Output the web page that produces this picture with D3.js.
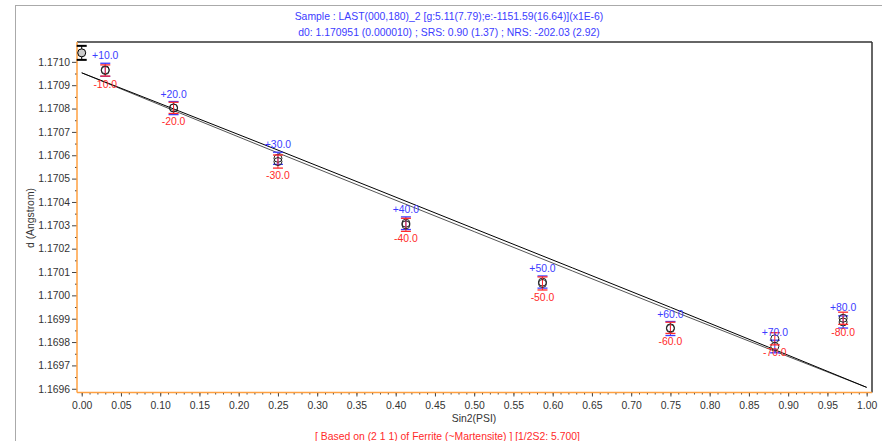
<!DOCTYPE html>
<html>
<head>
<meta charset="utf-8">
<script src="https://cdn.jsdelivr.net/npm/d3@7"></script>
<style>
  body { margin: 0; background: #fff; }
  text { font-family: "Liberation Sans", Arial, sans-serif; }
</style>
</head>
<body>
<div id="grafico"></div>
<script>
// datos
var psi = [10, 20, 30, 40, 50, 60, 70, 80];
var sin2psi = [0.030, 0.117, 0.250, 0.413, 0.587, 0.750, 0.883, 0.970];
var dMas = [1.170966, 1.170802, 1.170587, 1.170309, 1.170057, 1.169858, 1.169781, 1.169886];
var dMenos = [1.170963, 1.170803, 1.170573, 1.170302, 1.170051, 1.169861, 1.169814, 1.169902];
var errMas = [0.000028, 0.000028, 0.000026, 0.000027, 0.000026, 0.000030, 0.000027, 0.000026];
var errMenos = [0.000024, 0.000024, 0.000028, 0.000028, 0.000028, 0.000024, 0.000026, 0.000026];

// d0 marcado en sin2psi = 0
var d0Punto = [{s: 0.0, d: 1.1710385, e: 0.00003}];

// rectas de ajuste (+psi y -psi)
var ajusteS = [0, 0.25, 0.5, 0.75, 1];
var ajusteMas = [1.170953, 1.170622, 1.170286, 1.169949, 1.169606];
var ajusteMenos = [1.170953, 1.170610, 1.170273, 1.169937, 1.169606];

var ticksX = d3.range(0, 1.0001, 0.05);
var ticksY = d3.range(1.1696, 1.17101, 0.0001);

var titulo1 = "Sample : LAST(000,180)_2 [g:5.11(7.79);e:-1151.59(16.64)](x1E-6)";
var titulo2 = "d0: 1.170951 (0.000010) ; SRS: 0.90 (1.37) ; NRS: -202.03 (2.92)";
var pie = "[ Based on (2 1 1) of Ferrite (~Martensite) ] [1/2S2: 5.700]";

ancho = 882;
alto = 441;
izq = 77; der = 872; arriba = 42; abajo = 392.5;
azul = "#3c3cff";
rojo = "#ff2a2a";
naranja = "#ffa040";
fuente = "10.4px";

var svg = d3.select("#grafico")
    .append("svg")
    .attr("width", ancho)
    .attr("height", alto);

// marco gris exterior
svg.append("line").attr("x1", 16).attr("x2", 882).attr("y1", 5.5).attr("y2", 5.5)
    .attr("stroke", "#aaa").attr("stroke-width", 1);
svg.append("line").attr("x1", 15.5).attr("x2", 15.5).attr("y1", 5).attr("y2", 441)
    .attr("stroke", "#aaa").attr("stroke-width", 1);

var escalaX = d3.scaleLinear().domain([-0.006, 1.0068]).range([izq, der]);
var escalaY = d3.scaleLinear().domain([1.169584, 1.171085]).range([abajo, arriba]);

// ejes
var ejeX = svg.append("g")
    .attr("transform", "translate(0," + abajo + ")")
    .call(d3.axisBottom(escalaX).tickValues(ticksX).tickSize(4).tickSizeOuter(0)
        .tickFormat(d3.format(".2f")));
var ejeXmenor = svg.append("g")
    .attr("transform", "translate(0," + abajo + ")")
    .call(d3.axisBottom(escalaX).tickValues(d3.range(0, 1.0001, 0.01)).tickSize(2)
        .tickSizeOuter(0).tickFormat(""));

var ejeY = svg.append("g")
    .attr("transform", "translate(" + izq + ",0)")
    .call(d3.axisLeft(escalaY).tickValues(ticksY).tickSize(5).tickSizeOuter(0)
        .tickFormat(d3.format(".4f")));
var ejeYmenor = svg.append("g")
    .attr("transform", "translate(" + izq + ",0)")
    .call(d3.axisLeft(escalaY).tickValues(d3.range(1.16965, 1.17101, 0.0001)).tickSize(2)
        .tickSizeOuter(0).tickFormat(""));

[ejeX, ejeXmenor, ejeY, ejeYmenor].forEach(function (g) {
    g.select(".domain").remove();
    g.selectAll("line").attr("stroke", "#444");
    g.selectAll("text").attr("fill", "#333").attr("font-size", fuente)
        .attr("font-family", "Liberation Sans, Arial, sans-serif");
});
ejeX.selectAll("text").attr("dy", "0.95em");
ejeY.selectAll("text").attr("dx", "1px");

// bordes
svg.append("line").attr("x1", izq).attr("x2", der).attr("y1", arriba).attr("y2", arriba)
    .attr("stroke", "#333").attr("stroke-width", 1.5);
svg.append("line").attr("x1", der).attr("x2", der).attr("y1", arriba).attr("y2", abajo)
    .attr("stroke", "#333").attr("stroke-width", 1.5);
svg.append("line").attr("x1", izq).attr("x2", der).attr("y1", abajo).attr("y2", abajo)
    .attr("stroke", naranja).attr("stroke-width", 1.5);
svg.append("line").attr("x1", izq).attr("x2", izq).attr("y1", arriba).attr("y2", abajo)
    .attr("stroke", naranja).attr("stroke-width", 1.5);

// rectas de ajuste
var linea = d3.line()
    .x(function (d) { return escalaX(d[0]); })
    .y(function (d) { return escalaY(d[1]); })
    .curve(d3.curveMonotoneX);

svg.append("path")
    .attr("d", linea(ajusteS.map(function (s, i) { return [s, ajusteMenos[i]]; })))
    .attr("fill", "none").attr("stroke", "#555").attr("stroke-width", 1);
svg.append("path")
    .attr("d", linea(ajusteS.map(function (s, i) { return [s, ajusteMas[i]]; })))
    .attr("fill", "none").attr("stroke", "#000").attr("stroke-width", 1);

// puntos con barras de error
function barras(valores, errores, color) {
    var g = svg.append("g");
    var datos = sin2psi.map(function (s, i) { return {s: s, d: valores[i], e: errores[i]}; });
    g.selectAll(".vert").data(datos).enter().append("line")
        .attr("x1", function (d) { return escalaX(d.s); })
        .attr("x2", function (d) { return escalaX(d.s); })
        .attr("y1", function (d) { return escalaY(d.d + d.e); })
        .attr("y2", function (d) { return escalaY(d.d - d.e); })
        .attr("stroke", color).attr("stroke-width", 1);
    [1, -1].forEach(function (signo) {
        g.selectAll(".cap" + signo).data(datos).enter().append("line")
            .attr("x1", function (d) { return escalaX(d.s) - 5; })
            .attr("x2", function (d) { return escalaX(d.s) + 5; })
            .attr("y1", function (d) { return escalaY(d.d + signo * d.e); })
            .attr("y2", function (d) { return escalaY(d.d + signo * d.e); })
            .attr("stroke", color).attr("stroke-width", 1.3);
    });
    g.selectAll("circle").data(datos).enter().append("circle")
        .attr("cx", function (d) { return escalaX(d.s); })
        .attr("cy", function (d) { return escalaY(d.d); })
        .attr("r", 4)
        .attr("fill", "none")
        .attr("stroke", "#222").attr("stroke-width", 1);
}
barras(dMas, errMas, azul);
barras(dMenos, errMenos, rojo);

// marcador negro de d0
var gd0 = svg.append("g");
gd0.selectAll(".v").data(d0Punto).enter().append("line")
    .attr("x1", function (d) { return escalaX(d.s); })
    .attr("x2", function (d) { return escalaX(d.s); })
    .attr("y1", function (d) { return escalaY(d.d + d.e); })
    .attr("y2", function (d) { return escalaY(d.d - d.e); })
    .attr("stroke", "#000").attr("stroke-width", 1);
[1, -1].forEach(function (signo) {
    gd0.selectAll(".c" + signo).data(d0Punto).enter().append("line")
        .attr("x1", function (d) { return escalaX(d.s) - 5; })
        .attr("x2", function (d) { return escalaX(d.s) + 5; })
        .attr("y1", function (d) { return escalaY(d.d + signo * d.e); })
        .attr("y2", function (d) { return escalaY(d.d + signo * d.e); })
        .attr("stroke", "#000").attr("stroke-width", 2);
});
gd0.selectAll("circle").data(d0Punto).enter().append("circle")
    .attr("cx", function (d) { return escalaX(d.s); })
    .attr("cy", function (d) { return escalaY(d.d); })
    .attr("r", 4).attr("fill", "#ccc").attr("stroke", "#000").attr("stroke-width", 1);

// etiquetas de psi
svg.selectAll(".etqMas").data(psi).enter().append("text")
    .text(function (d) { return "+" + d.toFixed(1); })
    .attr("x", function (d, i) { return escalaX(sin2psi[i]); })
    .attr("y", function (d, i) { return escalaY(dMas[i]) - 10.5; })
    .attr("text-anchor", "middle").attr("font-size", fuente).attr("fill", azul);
svg.selectAll(".etqMenos").data(psi).enter().append("text")
    .text(function (d) { return "-" + d.toFixed(1); })
    .attr("x", function (d, i) { return escalaX(sin2psi[i]); })
    .attr("y", function (d, i) { return escalaY(dMenos[i]) + 17.5; })
    .attr("text-anchor", "middle").attr("font-size", fuente).attr("fill", rojo);

// textos
svg.append("text").text(titulo1).attr("x", 449).attr("y", 19.5)
    .attr("text-anchor", "middle").attr("font-size", fuente).attr("fill", azul);
svg.append("text").text(titulo2).attr("x", 449).attr("y", 35.5)
    .attr("text-anchor", "middle").attr("font-size", fuente).attr("fill", azul);
svg.append("text").text("Sin2(PSI)").attr("x", 474).attr("y", 422)
    .attr("text-anchor", "middle").attr("font-size", fuente).attr("fill", "#333");
svg.append("text").text(pie).attr("x", 447.5).attr("y", 439.5)
    .attr("text-anchor", "middle").attr("font-size", fuente).attr("fill", rojo);
svg.append("text").text("d (Angstrom)")
    .attr("transform", "translate(34,218) rotate(-90)")
    .attr("text-anchor", "middle").attr("font-size", fuente).attr("fill", "#333");
</script>
</body>
</html>
